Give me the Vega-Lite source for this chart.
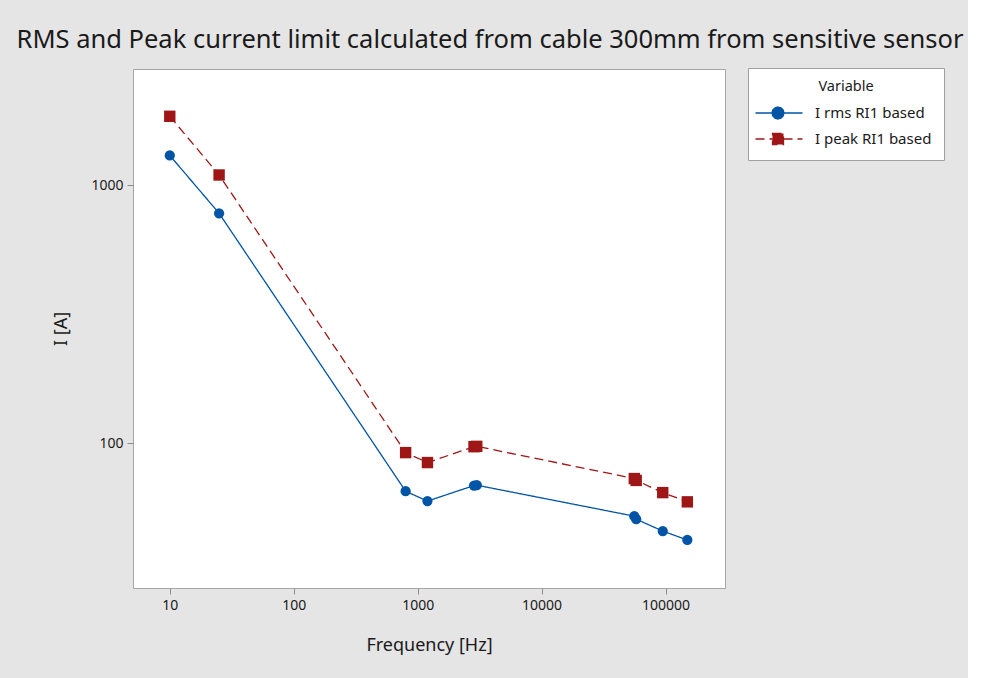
{
  "$schema": "https://vega.github.io/schema/vega-lite/v6.json",
  "width": 592,
  "height": 519,
  "autosize": {"type": "none"},
  "padding": {"left": 133, "top": 69, "right": 243, "bottom": 90},
  "background": "#e5e5e5",
  "config": {
    "view": {"fill": "white", "stroke": "#a6a6a6", "strokeWidth": 1},
    "font": "Noto Sans",
    "axis": {
      "domain": false, "grid": false, "tickColor": "#8c8c8c", "tickSize": 6,
      "labelFont": "Noto Sans", "labelFontSize": 14, "labelColor": "#1a1a1a", "labelPadding": 4,
      "titleFont": "Noto Sans", "titleFontSize": 18, "titleFontWeight": "normal", "titleColor": "#1a1a1a"
    }
  },
  "title": {
    "text": "RMS and Peak current limit calculated from cable 300mm from sensitive sensor",
    "font": "Noto Sans", "fontSize": 25.5, "fontWeight": "normal", "color": "#1a1a1a",
    "anchor": "middle", "dx": 61, "offset": -6, "baseline": "alphabetic"
  },
  "data": {
    "values": [
      {"Frequency": 10, "I": 1304, "Variable": "I rms RI1 based"},
      {"Frequency": 25, "I": 778, "Variable": "I rms RI1 based"},
      {"Frequency": 800, "I": 65.2, "Variable": "I rms RI1 based"},
      {"Frequency": 1200, "I": 59.7, "Variable": "I rms RI1 based"},
      {"Frequency": 2850, "I": 68.6, "Variable": "I rms RI1 based"},
      {"Frequency": 3000, "I": 68.8, "Variable": "I rms RI1 based"},
      {"Frequency": 56000, "I": 52.2, "Variable": "I rms RI1 based"},
      {"Frequency": 58000, "I": 50.8, "Variable": "I rms RI1 based"},
      {"Frequency": 95000, "I": 45.7, "Variable": "I rms RI1 based"},
      {"Frequency": 150000, "I": 42.2, "Variable": "I rms RI1 based"},
      {"Frequency": 10, "I": 1848, "Variable": "I peak RI1 based"},
      {"Frequency": 25, "I": 1095, "Variable": "I peak RI1 based"},
      {"Frequency": 800, "I": 92, "Variable": "I peak RI1 based"},
      {"Frequency": 1200, "I": 84.2, "Variable": "I peak RI1 based"},
      {"Frequency": 2850, "I": 97, "Variable": "I peak RI1 based"},
      {"Frequency": 3000, "I": 97.3, "Variable": "I peak RI1 based"},
      {"Frequency": 56000, "I": 73, "Variable": "I peak RI1 based"},
      {"Frequency": 58000, "I": 71.8, "Variable": "I peak RI1 based"},
      {"Frequency": 95000, "I": 64.4, "Variable": "I peak RI1 based"},
      {"Frequency": 150000, "I": 59.3, "Variable": "I peak RI1 based"}
    ]
  },
  "encoding": {
    "x": {
      "field": "Frequency", "type": "quantitative",
      "scale": {"type": "log", "domain": [5.05, 302000], "nice": false},
      "axis": {"values": [10, 100, 1000, 10000, 100000], "format": "d", "title": "Frequency [Hz]", "titlePadding": 24}
    },
    "y": {
      "field": "I", "type": "quantitative",
      "scale": {"type": "log", "domain": [27.5, 2818], "nice": false},
      "axis": {"values": [100, 1000], "format": "d", "title": "I [A]", "titlePadding": 20}
    },
    "color": {
      "field": "Variable", "type": "nominal",
      "scale": {"domain": ["I rms RI1 based", "I peak RI1 based"], "range": ["#0054A6", "#9E1616"]},
      "legend": {
        "orient": "none", "legendX": 615, "legendY": -1,
        "title": "Variable", "titleFont": "Noto Sans", "titleFontSize": 14.5, "titleFontWeight": "normal", "titleColor": "#1a1a1a",
        "titleAnchor": "middle", "titlePadding": 11,
        "labelFont": "Noto Sans", "labelFontSize": 15, "labelColor": "#1a1a1a", "labelOffset": 40,
        "symbolSize": 100, "symbolStrokeWidth": 1.5, "rowPadding": 8,
        "padding": 12, "fillColor": "white", "strokeColor": "#a0a0a0",
        "encode": {
          "symbols": {
            "update": {
              "shape": {"signal": "datum.value === 'I rms RI1 based' ? 'M-2.4,0L7,0M3.3,0L3.14,0.6L2.7,1.04L2.1,1.2L1.5,1.04L1.06,0.6L0.9,0L1.06,-0.6L1.5,-1.04L2.1,-1.2L2.7,-1.04L3.14,-0.6Z' : 'M-2.4,0L7,0M1,-1.1L3.2,-1.1L3.2,1.1L1,1.1Z'"},
              "fill": {"signal": "datum.value === 'I rms RI1 based' ? '#0054A6' : '#9E1616'"},
              "stroke": {"signal": "datum.value === 'I rms RI1 based' ? '#0054A6' : '#9E1616'"},
              "strokeDash": {"signal": "datum.value === 'I rms RI1 based' ? [1,0] : [9,4]"},
              "strokeWidth": {"value": 1.3},
              "opacity": {"value": 1}
            }
          }
        }
      }
    }
  },
  "layer": [
    {
      "mark": {"type": "line", "strokeWidth": 1.3},
      "encoding": {
        "strokeDash": {
          "field": "Variable", "type": "nominal",
          "scale": {"domain": ["I rms RI1 based", "I peak RI1 based"], "range": [[1, 0], [9, 5]]},
          "legend": null
        }
      }
    },
    {
      "transform": [{"filter": "datum.Variable === 'I rms RI1 based'"}],
      "mark": {"type": "point", "shape": "circle", "filled": true, "opacity": 1, "size": 105}
    },
    {
      "transform": [{"filter": "datum.Variable === 'I peak RI1 based'"}],
      "mark": {"type": "point", "shape": "square", "filled": true, "opacity": 1, "size": 130}
    }
  ]
}
